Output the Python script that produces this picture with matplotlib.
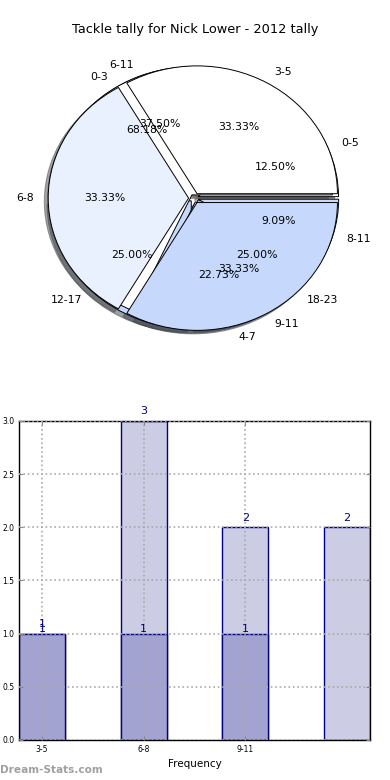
import numpy as np
import matplotlib.pyplot as plt

# pie data (three tallies drawn on the same axes)
hour_labels = ['0-3', '4-7', '8-11']
hour_counts = [15, 5, 2]
span_labels = ['0-5', '6-11', '12-17', '18-23']
span_counts = [1, 3, 2, 2]
range_labels = ['3-5', '6-8', '9-11']
range_counts = [1, 1, 1]

# bar data
freq_labels = ['3-5', '6-8', '9-11']
freq_all = [1, 3, 2, 2]
freq_top = [1, 1, 1]

pie_colors = ['white', '#eaf1fe', '#c6d9fd']

fig = plt.figure(figsize=(3.9, 7.8), dpi=100)

# ---- pie ----
ax1 = fig.add_axes([0.03, 0.533, 0.936, 0.426])
for vals, labs, ex in [(span_counts, span_labels, 0.03),
                       (hour_counts, hour_labels, 0.03),
                       (range_counts, range_labels, 0.04)]:
	wedges, texts, autotexts = ax1.pie(vals, labels=labs, colors=pie_colors,
		explode=[ex]*len(vals), shadow=True, autopct='%.2f%%',
		wedgeprops=dict(edgecolor='black', linewidth=0.7))
	for t in texts + autotexts:
		t.set_fontsize(7.8)
ax1.set_aspect('auto')
ax1.set_xlim(-1.3, 1.3)
ax1.set_ylim(-1.3, 1.3)
fig.text(0.5, 1 - 30/780., 'Tackle tally for Nick Lower - 2012 tally',
	ha='center', va='center', fontsize=9.3)

# ---- bars ----
ax2 = fig.add_axes([0.0487, 0.0513, 0.9, 0.409])
x = np.arange(len(freq_all))
b1 = ax2.bar(x, freq_all, 0.45, align='edge', color='#ccccE4',
	edgecolor='#000080', linewidth=1)
b2 = ax2.bar(x[:len(freq_top)], freq_top, 0.45, align='edge', color='#a3a3d1',
	edgecolor='#000080', linewidth=1)
for r in b1:
	h = r.get_height()
	ax2.text(r.get_x() + r.get_width()/2., h + 0.045, '%d' % h,
		ha='center', va='bottom', color='#000080', fontsize=8)
for r in b2:
	h = r.get_height()
	ax2.text(r.get_x() + r.get_width()/2., h - 0.005, '%d' % h,
		ha='center', va='bottom', color='#000080', fontsize=8)
ax2.set_xlim(0, 3.45)
ax2.set_ylim(0, 3.0)
ax2.set_xticks(x[:len(freq_labels)] + 0.225)
ax2.set_xticklabels(freq_labels)
ax2.set_yticks(np.arange(0, 3.01, 0.5))
ax2.tick_params(direction='in', top=True, right=True, labelsize=5.5,
	length=3, color='#888888')
ax2.grid(True, linestyle=':', color='#aaaaaa', linewidth=1.2)
ax2.set_axisbelow(False)
ax2.set_xlabel('Frequency', fontsize=7.5, labelpad=4)
for s in ax2.spines.values():
	s.set_linewidth(1)

fig.text(0.0, 1 - 770/780., 'Dream-Stats.com', ha='left', va='center',
	color='#a0a0a0', fontsize=7.6, fontweight='bold')

fig.savefig('out.png', dpi=100)
